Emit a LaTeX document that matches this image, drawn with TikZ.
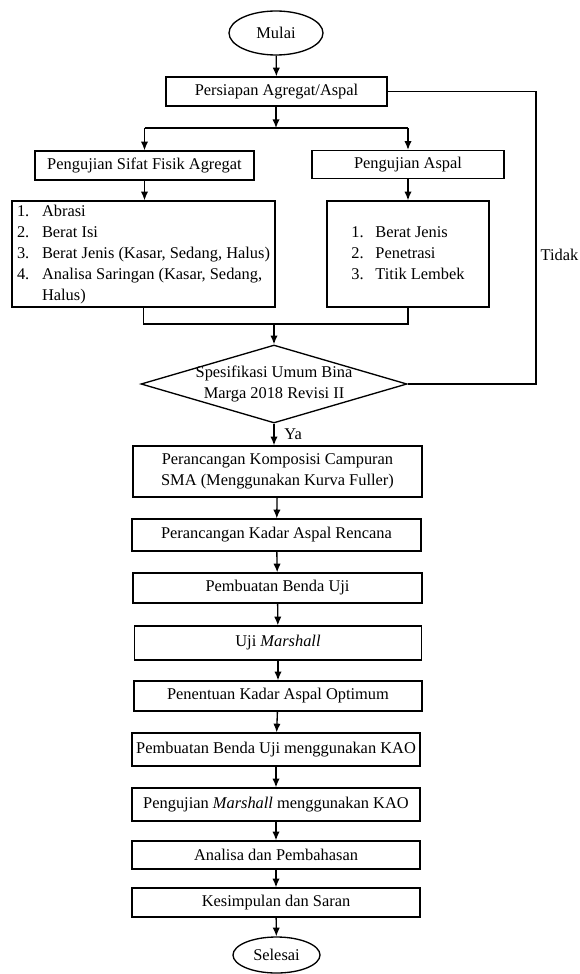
\documentclass[tikz,border=0pt]{standalone}
\usepackage{fontspec}
\setmainfont{Liberation Serif}
\usetikzlibrary{shapes.geometric,arrows.meta}
\begin{document}
\begin{tikzpicture}[x=0.75pt,y=-0.75pt,
  every node/.style={font=\fontsize{12.3}{15.75}\selectfont},
  box/.style={draw, line width=1pt, inner sep=0pt, align=center},
  term/.style={ellipse, draw, line width=1pt, inner sep=0pt},
  decision/.style={diamond, draw, line width=1pt, inner sep=0pt},
  ln/.style={line width=1pt},
  arr/.style={line width=1pt, -{Latex[length=6.5pt,width=5.5pt]}}]
\useasboundingbox (0,0) rectangle (580,974);

% nodes
\node[term, minimum width=70.5pt, minimum height=33pt] (mulai) at (276,33) {Mulai};
\node[box, minimum width=165.75pt, minimum height=21.75pt] (persiapan) at (276.5,91.5) {Persiapan Agregat/Aspal};
\node[box, minimum width=164.25pt, minimum height=21.75pt] (agregat) at (144.5,165.5) {Pengujian Sifat Fisik Agregat};
\node[box, minimum width=144pt, minimum height=21pt] (aspal) at (408,164.5) {Pengujian Aspal};
\node[box, minimum width=197.25pt, minimum height=79.5pt] (listA) at (143.5,254)
  {\begin{tabular}{@{}l@{}}
   \makebox[18.75pt][l]{1.}Abrasi\\
   \makebox[18.75pt][l]{2.}Berat Isi\\
   \makebox[18.75pt][l]{3.}Berat Jenis (Kasar, Sedang, Halus)\\
   \makebox[18.75pt][l]{4.}Analisa Saringan (Kasar, Sedang,\\
   \hspace*{18.75pt}Halus)
   \end{tabular}};
\node[box, minimum width=121.5pt, minimum height=79.5pt] (listB) at (408,254)
  {\raisebox{3pt}{\begin{tabular}{@{}l@{}}
   \makebox[18pt][l]{1.}Berat Jenis\\
   \makebox[18pt][l]{2.}Penetrasi\\
   \makebox[18pt][l]{3.}Titik Lembek
   \end{tabular}}};
\node[decision, minimum width=199.5pt, minimum height=58.5pt,
  label={[align=center, font=\fontsize{12.3}{15.75}\selectfont]center:Spesifikasi Umum Bina\\Marga 2018 Revisi II}] (spek) at (274,384) {};
\node[box, minimum width=216.75pt, minimum height=38.25pt] (komposisi) at (277.5,471.5) {Perancangan Komposisi Campuran\\SMA (Menggunakan Kurva Fuller)};
\node[box, minimum width=216.75pt, minimum height=24pt] (kadar) at (276.5,535) {Perancangan Kadar Aspal Rencana};
\node[box, minimum width=216.75pt, minimum height=22.5pt] (benda) at (277.5,588) {Pembuatan Benda Uji};
\node[box, minimum width=215.25pt, minimum height=25.5pt] (uji) at (278,643) {Uji \textit{Marshall}};
\node[box, minimum width=216pt, minimum height=22.5pt] (kao1) at (278,696) {Penentuan Kadar Aspal Optimum};
\node[box, minimum width=216pt, minimum height=24.75pt] (kao2) at (276,749.5) {Pembuatan Benda Uji menggunakan KAO};
\node[box, minimum width=216pt, minimum height=24.75pt] (kao3) at (276,804.5) {Pengujian \textit{Marshall} menggunakan KAO};
\node[box, minimum width=216pt, minimum height=21pt] (analisa) at (276,855) {Analisa dan Pembahasan};
\node[box, minimum width=216pt, minimum height=21.75pt] (simpul) at (276,902.5) {Kesimpulan dan Saran};
\node[term, minimum width=65.25pt, minimum height=27pt] (selesai) at (276.5,955) {Selesai};

% coordinates
\coordinate (split) at (276,128);
\coordinate (splitL) at (144.5,128);
\coordinate (splitR) at (408,128);
\coordinate (mergeL) at (143.5,324);
\coordinate (mergeR) at (408,324);
\coordinate (merge) at (274,324);
\coordinate (loopTop) at (536,91.5);
\coordinate (loopBot) at (536,384);

% connectors
\draw[arr] (mulai) -- (persiapan);
\draw[arr] (persiapan.south -| split) -- (split);
\draw[ln] (splitL) -- (splitR);
\draw[arr] (splitL) -- (agregat.north);
\draw[arr] (splitR) -- (aspal.north);
\draw[arr] (agregat.south) -- (listA.north -| agregat.south);
\draw[arr] (aspal.south) -- (listB.north -| aspal.south);
\draw[ln] (listA.south) -- (mergeL) -- (mergeR) -- (listB.south);
\draw[arr] (merge) -- (spek.north);
\draw[ln] (persiapan.east) -- (loopTop) -- node[right, pos=0.56, inner sep=3pt] (tidak) {Tidak} (loopBot) -- (spek.east);
\draw[arr] (spek.south) -- node[right, xshift=4pt] (ya) {Ya} (spek.south |- komposisi.north);
\draw[arr] (komposisi) -- (kadar);
\draw[arr] (kadar) -- (benda);
\draw[arr] (benda) -- (uji);
\draw[arr] (uji) -- (kao1);
\draw[arr] (kao1) -- (kao2);
\draw[arr] (kao2) -- (kao3);
\draw[arr] (kao3) -- (analisa);
\draw[arr] (analisa) -- (simpul);
\draw[arr] (simpul) -- (selesai);
\end{tikzpicture}
\end{document}
